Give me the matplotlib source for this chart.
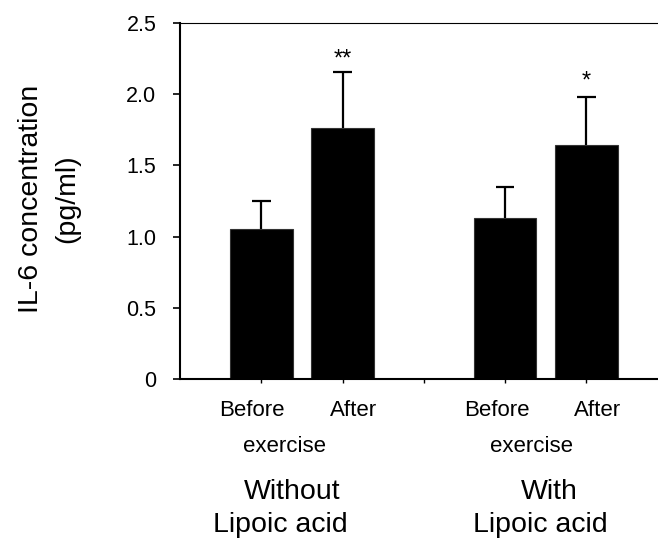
import numpy as np
import matplotlib
matplotlib.use("Agg")
import matplotlib.pyplot as plt
import matplotlib.transforms as mtransforms

plt.rcParams['font.family'] = ['Liberation Sans', 'DejaVu Sans']

# IL-6 (pg/ml), mean and upper error
bar_pos = [1, 2, 4, 5]
means = [1.05, 1.76, 1.13, 1.64]
errors = [0.20, 0.395, 0.22, 0.34]
stars = ['', '**', '', '*']
yticks = [0, 0.5, 1.0, 1.5, 2.0, 2.5]
ytick_labels = ['0', '0.5', '1.0', '1.5', '2.0', '2.5']
xticks = [1, 2, 3, 4, 5]

fig = plt.figure(figsize=(6.58, 5.39), dpi=100)
ax = fig.add_axes([180/658, 1 - 379/539, 478/658, (379 - 23)/539])

ax.bar(bar_pos, means, width=0.77, color='black', edgecolor='#333333', linewidth=0.8,
       yerr=[np.zeros(len(errors)), errors], capsize=0,
       error_kw=dict(ecolor='black', elinewidth=1.6))
# caps on the upper error only
for x, m, e in zip(bar_pos, means, errors):
    ax.plot([x - 0.115, x + 0.115], [m + e, m + e], color='black', lw=1.6, solid_capstyle='butt')

for x, m, e, s in zip(bar_pos, means, errors, stars):
    if s:
        ax.text(x, m + e + (0.045 if s == '**' else 0.065), s, ha='center', va='baseline', fontsize=17)

ax.set_xlim(0, 478/81.25)
ax.set_ylim(0, 2.5)
ax.set_yticks(yticks)
ax.set_yticklabels(ytick_labels)
ax.set_xticks(xticks)
ax.set_xticklabels([])
ax.tick_params(axis='y', direction='out', length=5, width=1.2, labelsize=15.5, pad=12)
ax.tick_params(axis='x', direction='out', length=3, width=1.0)

ax.spines['right'].set_visible(False)
ax.spines['top'].set_linewidth(0.8)
ax.spines['left'].set_linewidth(1.5)
ax.spines['bottom'].set_linewidth(1.5)

fig.text(49/658, 1 - 199/539, 'IL-6 concentration\n(pg/ml)', rotation=90,
         ha='center', va='center', multialignment='center', fontsize=20.5, linespacing=1.5)

trans = mtransforms.blended_transform_factory(ax.transData, fig.transFigure)

def put(xd, ypx, s, size):
    ax.text(xd, 1 - ypx/539, s, transform=trans, ha='center', va='baseline', fontsize=size, clip_on=False)

put(0.886, 416, 'Before', 16)
put(2.13, 416, 'After', 16)
put(1.28, 452, 'exercise', 16)
put(3.90, 416, 'Before', 16)
put(5.14, 416, 'After', 16)
put(4.33, 452, 'exercise', 16)
put(1.38, 499, 'Without', 20.5)
put(1.23, 532, 'Lipoic acid', 20.5)
put(4.55, 499, 'With', 20.5)
put(4.43, 532, 'Lipoic acid', 20.5)

fig.savefig('out.png', dpi=100)
